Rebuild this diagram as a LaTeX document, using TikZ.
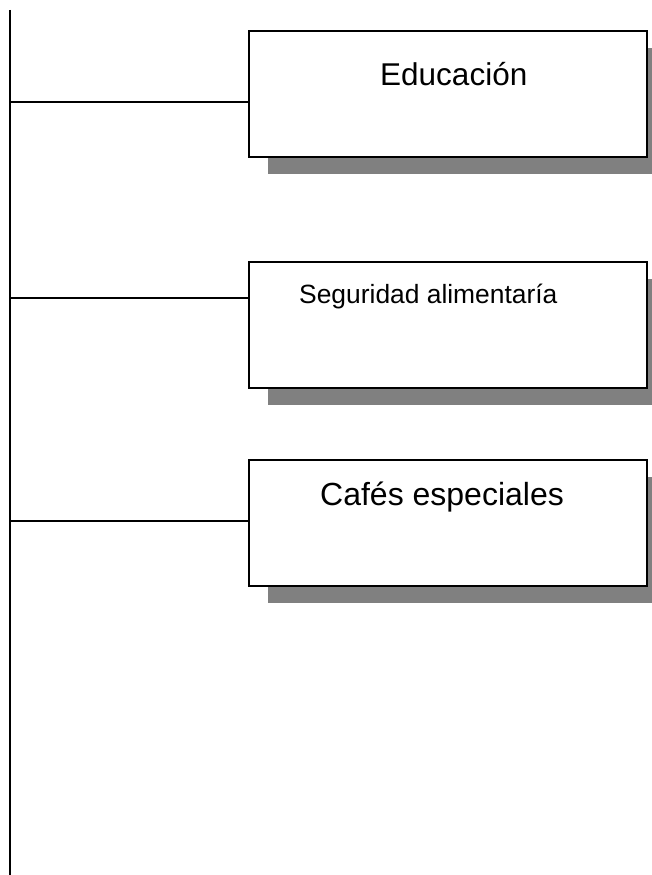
\documentclass[tikz,border=0pt]{standalone}
\usepackage{fontspec}
\setmainfont{Liberation Sans}
\usetikzlibrary{shadows}
\definecolor{shadowgray}{RGB}{128,128,128}
\begin{document}
\begin{tikzpicture}[x=1pt,y=-1pt,
  boxstyle/.style={draw=black, line width=2pt, fill=white, rectangle,
    minimum width=398pt, minimum height=126pt, inner sep=0pt,
    drop shadow={shadow xshift=19pt, shadow yshift=-17pt, fill=shadowgray, opacity=1}},
  trunk/.style={draw=black, line width=2pt},
  branch/.style={draw=black, line width=1.5pt},
  labelbig/.style={anchor=base west, inner sep=0pt, font=\fontsize{31.5}{36}\selectfont},
  labelcafe/.style={anchor=base west, inner sep=0pt, font=\fontsize{32}{36}\selectfont},
  labelsmall/.style={anchor=base west, inner sep=0pt, font=\fontsize{26.4}{31}\selectfont}]
\useasboundingbox (0,0) rectangle (652,875);
% trunk
\coordinate (top) at (10,10);
\coordinate (bottom) at (10,876);
\draw[trunk] (top) -- (bottom);
% boxes
\node[boxstyle] (b1) at (448,94) {};
\node[boxstyle] (b2) at (448,324.5) {};
\node[boxstyle] (b3) at (448,522.5) {};
% labels
\node[labelbig] (l1) at (380,85) {Educación};
\node[labelsmall] (l2) at (299,303) {Seguridad alimentaría};
\node[labelcafe] (l3) at (320,505) {Cafés especiales};
% branches
\coordinate (t1) at (10,102);
\coordinate (t2) at (10,298);
\coordinate (t3) at (10,521);
\draw[branch] (t1) -- (t1 -| b1.west);
\draw[branch] (t2) -- (t2 -| b2.west);
\draw[branch] (t3) -- (t3 -| b3.west);
\end{tikzpicture}
\end{document}
